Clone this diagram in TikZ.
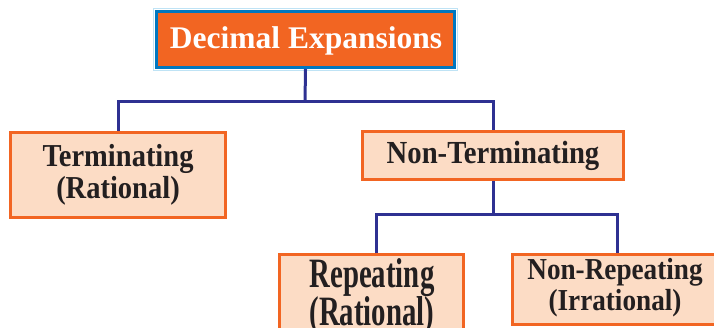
\documentclass[tikz,border=0pt]{standalone}
\usepackage{fontspec}
\usepackage{graphicx}
\setmainfont{Liberation Serif}
\definecolor{orangefill}{HTML}{F26522}
\definecolor{peach}{HTML}{FCDCC5}
\definecolor{navy}{HTML}{2E3192}
\definecolor{topblue}{HTML}{0077C0}
\definecolor{halo}{HTML}{BFE3F5}
\definecolor{ink}{HTML}{231F20}
\newcommand\stretchtext[4]{\scalebox{1}[#1]{\fontsize{#2}{#3}\selectfont\bfseries\begin{tabular}{@{}c@{}}#4\end{tabular}}}
\tikzset{
  topbox/.style={draw=topblue, line width=3pt, fill=orangefill, rectangle, inner sep=0pt},
  subbox/.style={draw=orangefill, line width=3pt, fill=peach, rectangle, inner sep=0pt, text=ink},
  lbl/.style={inner sep=0pt, text=ink},
  conn/.style={draw=navy, line width=3pt}
}
\begin{document}
\begin{tikzpicture}[x=1pt,y=-1pt]
\useasboundingbox (0,0) rectangle (714,328);
\clip (0,0) rectangle (714,328);
% halo around top box
\draw[halo, line width=0.8pt] (153.6,8.6) rectangle (457.4,70.4);
\node[topbox, minimum width=298pt, minimum height=56pt] (top) at (305.5,39.5) {};
\node[inner sep=0pt, text=white, font=\fontsize{31.5}{33}\selectfont\bfseries] (toptext) at (306,40.5) {Decimal Expansions};

\node[subbox, minimum width=215pt, minimum height=85pt] (term) at (118,175) {};
\node[lbl] (termtext) at (118,176) {\stretchtext{1.12}{28.5}{27}{Terminating\\(Rational)}};

\node[subbox, minimum width=261pt, minimum height=48pt] (nonterm) at (493,155.5) {};
\node[lbl] (nontermtext) at (493,156.5) {\stretchtext{1.12}{28.7}{27}{Non-Terminating}};

\node[subbox, minimum width=184pt, minimum height=92pt] (rep) at (371.5,301) {};
\node[lbl] (reptext) at (372,297) {\stretchtext{1.45}{28.8}{22}{Repeating\\(Rational)}};

\node[subbox, minimum width=205pt, minimum height=70pt] (nonrep) at (615,289.5) {};
\node[lbl] (nonreptext) at (615,289) {\stretchtext{1.12}{27.2}{27}{Non-Repeating\\(Irrational)}};

\coordinate (j1) at (305,102);
\coordinate (j2) at (493,215);
\draw[conn] (top.south) -- (j1);
\draw[conn] (term.north) |- (j1) -| (nonterm.north);
\draw[conn] (nonterm.south) -- (j2);
\draw[conn] ([xshift=4.5pt]rep.north) |- (j2) -| ([xshift=2pt]nonrep.north);
\end{tikzpicture}
\end{document}
